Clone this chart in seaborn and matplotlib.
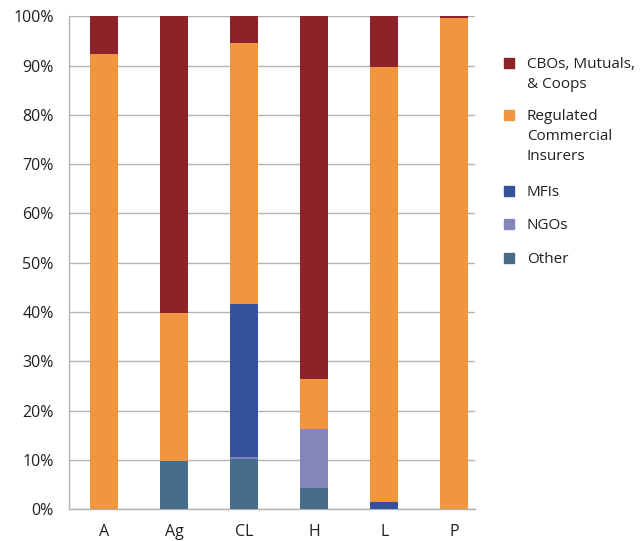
import matplotlib
matplotlib.use("Agg")
import matplotlib.pyplot as plt
from matplotlib.patches import Rectangle
from matplotlib.ticker import FixedLocator, PercentFormatter
import seaborn as sns
import pandas as pd

categories = ["A", "Ag", "CL", "H", "L", "P"]
other = [0, 9.8, 10.1, 4.3, 0, 0]
ngos = [0, 0, 0.4, 11.9, 0, 0]
mfis = [0, 0, 31.1, 0, 1.4, 0]
regulated = [92.4, 30.0, 52.9, 10.2, 88.3, 99.7]
cbos = [100 - (o + n + m + r) for o, n, m, r in zip(other, ngos, mfis, regulated)]

series_names = ["CBOs, Mutuals,\n& Coops", "Regulated\nCommercial\nInsurers", "MFIs", "NGOs", "Other"]
colors = ["#8b2328", "#ef963f", "#34519c", "#8485b8", "#456d8b"]

# stacking order bottom -> top
df = pd.DataFrame({"cat": categories, "Other": other, "NGOs": ngos, "MFIs": mfis,
                   "Regulated": regulated, "CBOs": cbos})
stack = ["Other", "NGOs", "MFIs", "Regulated", "CBOs"]
cum = df[stack].cumsum(axis=1)

sns.set_style("white")
plt.rcParams["font.family"] = ["Open Sans", "DejaVu Sans"]

fig = plt.figure(figsize=(6.44, 5.41), dpi=100)
ax = fig.add_axes([0.107, 0.059, 0.631, 0.911])

# draw cumulative totals from top down so each segment shows
col_for = dict(zip(["CBOs", "Regulated", "MFIs", "NGOs", "Other"], colors))
for name in reversed(stack):
    sns.barplot(x=df["cat"], y=cum[name], color=col_for[name], width=0.4,
                saturation=1, ax=ax, zorder=3, linewidth=0)

ax.set_ylim(0, 100)
ax.set_xlim(-0.5, 5.3)
ax.set_xlabel("")
ax.set_ylabel("")
ax.yaxis.set_major_locator(FixedLocator(range(0, 101, 10)))
ax.yaxis.set_major_formatter(PercentFormatter(decimals=0))
ax.grid(axis="y", color="#b3b3b3", linewidth=1, zorder=0)
ax.set_axisbelow(True)

for s in ["top", "right"]:
    ax.spines[s].set_visible(False)
ax.spines["left"].set_color("#b3b3b3")
ax.spines["bottom"].set_color("#b3b3b3")
ax.spines["left"].set_linewidth(1)
ax.spines["bottom"].set_linewidth(1)

ax.tick_params(axis="y", length=3, color="#b3b3b3", pad=8, labelsize=11.5, labelcolor="#231f20")
ax.tick_params(axis="x", which="major", length=0, pad=11, labelsize=11.5, labelcolor="#231f20")
ax.xaxis.set_minor_locator(FixedLocator([i - 0.5 for i in range(len(categories) + 1)]))
ax.tick_params(axis="x", which="minor", length=5, color="#b3b3b3", width=1)

# legend drawn by hand so the square sits on the first line
W, H = 644, 541
ys = [63, 115, 191, 224, 258]
for name, c, y in zip(series_names, colors, ys):
    fig.patches.append(Rectangle(((504) / W, 1 - (y + 5) / H), 10 / W, 10 / H,
                                 transform=fig.transFigure, color=c, figure=fig))
    fig.text(527 / W, 1 - (y - 6) / H, name, fontsize=11, va="top", ha="left",
             color="#231f20", linespacing=1.45)

fig.savefig("out.png", dpi=100)
